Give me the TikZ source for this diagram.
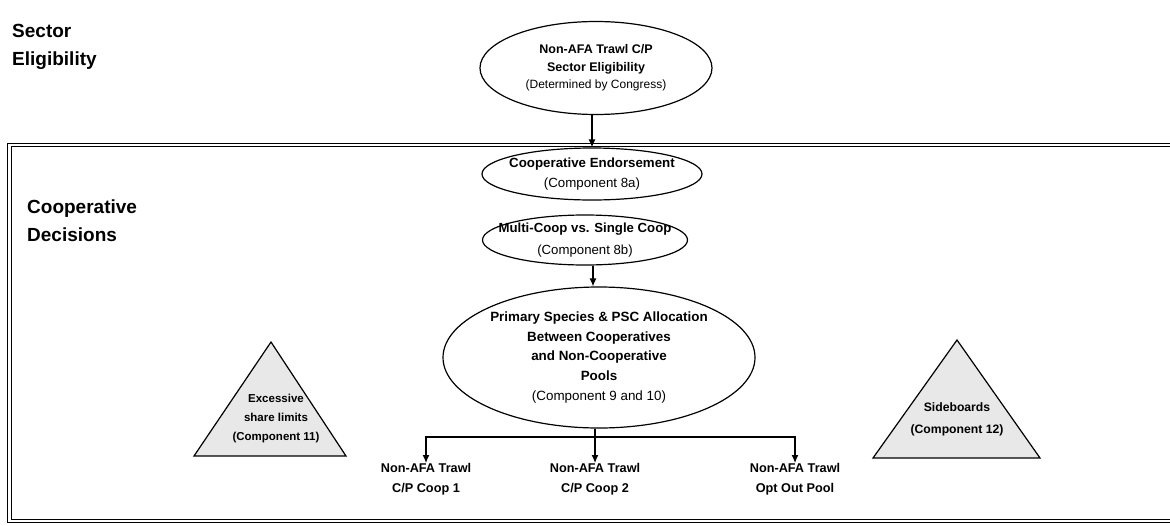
\documentclass[tikz,border=0pt]{standalone}
\usepackage{fontspec}
\setmainfont{Liberation Sans}
\usetikzlibrary{shapes.geometric,arrows.meta}

\tikzset{
  oval/.style={draw, ellipse, line width=1.2pt, inner sep=0pt},
  ovaltext/.style={align=center, inner sep=0pt, font=\bfseries\fontsize{13.3}{21}\selectfont},
  pyramid/.style={draw, line width=1.2pt, fill=gray!18},
  flow/.style={-{Latex[length=8pt,width=7pt]}, line width=1.2pt},
  heading/.style={anchor=west, align=left, inner sep=0pt, font=\bfseries\fontsize{19}{28}\selectfont},
  outcome/.style={anchor=north, align=center, inner sep=0pt, font=\bfseries\fontsize{12.7}{20}\selectfont},
}

\begin{document}
\begin{tikzpicture}[x=1pt, y=-1pt]
\useasboundingbox (0,0) rectangle (1170,525);

%% the frame round the cooperative part
\draw[double, double distance=2.2pt, line width=1.2pt] (9.5,145) rectangle (1185,521);

\node[heading] (sector) at (12,47) {Sector\\Eligibility};
\node[heading] (coop) at (27,221) {Cooperative\\Decisions};

%% ellipses
\node[oval, minimum width=232pt, minimum height=93pt] (elig) at (596,68) {};
\node[ovaltext, font=\bfseries\fontsize{12.5}{17.5}\selectfont] at (elig) {Non-AFA Trawl C/P\\Sector Eligibility\\{\mdseries\fontsize{12}{17.5}\selectfont(Determined by Congress)}};

\node[oval, minimum width=220pt, minimum height=52pt] (endorse) at (592,174) {};
\node[ovaltext, font=\bfseries\fontsize{13.3}{20}\selectfont] at (endorse) {Cooperative Endorsement\\{\mdseries (Component 8a)}};

\node[oval, minimum width=205pt, minimum height=50pt] (multi) at (585,240) {};
\node[ovaltext, font=\bfseries\fontsize{13.2}{22}\selectfont] at (multi) {Multi-Coop vs. Single Coop\\{\mdseries (Component 8b)}};

\node[oval, minimum width=312pt, minimum height=141pt] (alloc) at (599,357.5) {};
\node[ovaltext, font=\bfseries\fontsize{13.4}{19.7}\selectfont] at (alloc) {Primary Species \& PSC Allocation\\Between Cooperatives\\and Non-Cooperative\\Pools\\{\mdseries (Component 9 and 10)}};

%% triangles
\draw[pyramid] (194,456) -- (271,342) -- (346,456) -- cycle;
\node[ovaltext, font=\bfseries\fontsize{11.5}{19}\selectfont] (excess) at (276,419) {Excessive\\share limits\\(Component 11)};
\draw[pyramid] (873,458) -- (957,340) -- (1040,458) -- cycle;
\node[ovaltext, font=\bfseries\fontsize{12.2}{22}\selectfont] (side) at (957,419) {Sideboards\\(Component 12)};

%% outcomes
\node[outcome] (coop1) at (426,463) {Non-AFA Trawl\\C/P Coop 1};
\node[outcome] (coop2) at (595,463) {Non-AFA Trawl\\C/P Coop 2};
\node[outcome] (optout) at (795,463) {Non-AFA Trawl\\Opt Out Pool};

%% arrows
\draw[flow] (elig.south -| endorse.north) -- (endorse.north);
\draw[flow] (multi.south -| 593,0) -- (alloc.north -| 593,0);
\coordinate (split) at (595,437);
\draw[line width=1.2pt] (alloc.south -| split) -- (split);
\draw[flow] (split) -| (coop1.north);
\draw[flow] (split) -- (coop2.north);
\draw[flow] (split) -| (optout.north);
\end{tikzpicture}
\end{document}
